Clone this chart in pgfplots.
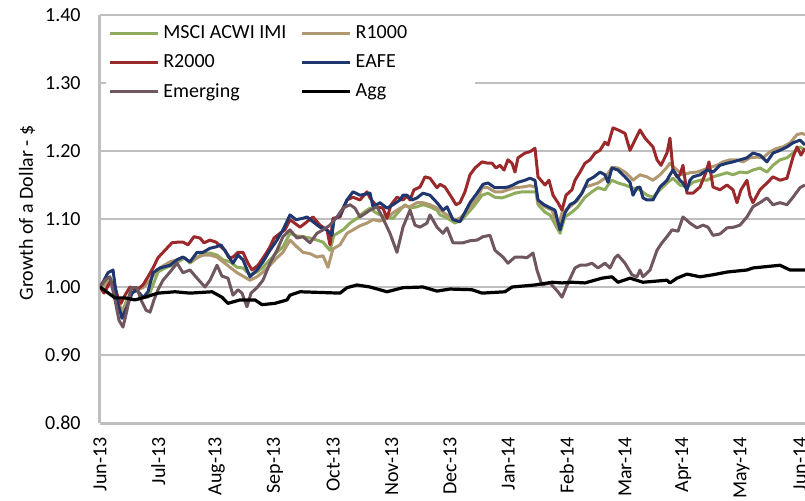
\documentclass[border=0pt]{standalone}
\usepackage{pgfplots}
\pgfplotsset{compat=1.18}
\usepackage{fontspec}
\setmainfont{Carlito}
\definecolor{cMSCI}{RGB}{143,172,92}
\definecolor{cRthou}{RGB}{176,152,112}
\definecolor{cRtwo}{RGB}{155,40,42}
\definecolor{cEAFE}{RGB}{31,54,110}
\definecolor{cEM}{RGB}{112,86,94}
\definecolor{gridgray}{RGB}{191,191,191}
\begin{document}
\begin{tikzpicture}[font=\fontsize{10pt}{12pt}\selectfont]
\begin{axis}[
  scale only axis, width=352.5pt, height=204pt,
  xmin=0, xmax=12.086, ymin=0.8, ymax=1.4,
  axis x line*=bottom, axis y line*=left,
  axis line style={draw=gridgray, line width=1.5pt, -},
  xtick={0,1,2,3,4,5,6,7,8,9,10,11,12},
  xticklabels={Jun-13,Jul-13,Aug-13,Sep-13,Oct-13,Nov-13,Dec-13,Jan-14,Feb-14,Mar-14,Apr-14,May-14,Jun-14},
  ytick={0.8,0.9,1.0,1.1,1.2,1.3,1.4},
  /pgf/number format/assume math mode=true,
  yticklabel style={/pgf/number format/fixed, /pgf/number format/fixed zerofill, /pgf/number format/precision=2, anchor=east, inner sep=0pt, xshift=-9.5pt},
  xticklabel style={yshift=-7pt, rotate=90, anchor=east, inner sep=0pt},
  major tick length=0pt,
  ymajorgrids, grid style={draw=gridgray, line width=1pt},
  ylabel={Growth of a Dollar - \$},
  ylabel style={at={(axis description cs:-0.1035,0.515)}, anchor=center},
  legend style={at={(axis description cs:0.0085,0.988)}, anchor=north west, draw=none, fill=white, inner xsep=1pt, inner ysep=0.5pt, row sep=2.5pt, /tikz/every even column/.append style={column sep=5pt}},
  legend columns=2, legend cell align=left,
  legend image code/.code={\draw[#1] (0pt,0pt) -- (24pt,0pt);},
  every axis plot/.append style={line width=1.5pt, line join=round},
]
\addplot[cMSCI] coordinates {(0,1.000)(0.086,1.006)(0.206,1.010)(0.291,0.985)(0.377,0.963)(0.463,0.981)(0.549,0.996)(0.651,0.993)(0.737,0.985)(0.823,0.985)(0.909,1.003)(0.994,1.022)(1.114,1.028)(1.234,1.032)(1.337,1.037)(1.457,1.043)(1.543,1.035)(1.663,1.043)(1.766,1.050)(1.886,1.050)(2.006,1.047)(2.109,1.040)(2.229,1.037)(2.349,1.029)(2.451,1.028)(2.571,1.018)(2.691,1.022)(2.794,1.029)(2.914,1.040)(3.034,1.051)(3.137,1.059)(3.257,1.079)(3.377,1.075)(3.480,1.074)(3.600,1.072)(3.720,1.069)(3.823,1.066)(3.891,1.059)(3.943,1.054)(4.011,1.076)(4.166,1.084)(4.286,1.094)(4.406,1.101)(4.509,1.109)(4.629,1.116)(4.714,1.110)(4.800,1.106)(4.920,1.103)(5.023,1.101)(5.143,1.113)(5.229,1.121)(5.314,1.116)(5.434,1.118)(5.537,1.121)(5.657,1.118)(5.777,1.113)(5.829,1.106)(5.914,1.103)(6.000,1.099)(6.086,1.094)(6.206,1.099)(6.309,1.109)(6.429,1.121)(6.549,1.135)(6.651,1.138)(6.771,1.132)(6.891,1.131)(6.994,1.134)(7.114,1.138)(7.234,1.140)(7.406,1.140)(7.474,1.140)(7.509,1.121)(7.629,1.110)(7.714,1.106)(7.834,1.087)(7.886,1.079)(7.971,1.103)(8.091,1.110)(8.194,1.118)(8.314,1.132)(8.434,1.140)(8.537,1.146)(8.657,1.143)(8.709,1.150)(8.777,1.157)(8.880,1.153)(9.000,1.150)(9.120,1.146)(9.257,1.143)(9.377,1.135)(9.480,1.132)(9.600,1.143)(9.720,1.153)(9.823,1.160)(9.943,1.150)(10.063,1.147)(10.166,1.154)(10.286,1.157)(10.406,1.157)(10.509,1.162)(10.629,1.165)(10.749,1.168)(10.851,1.165)(10.971,1.169)(11.091,1.168)(11.194,1.172)(11.314,1.175)(11.434,1.169)(11.537,1.179)(11.657,1.187)(11.777,1.190)(11.880,1.197)(12.000,1.206)(12.086,1.201)};
\addlegendentry{MSCI ACWI IMI}
\addplot[cRthou] coordinates {(0,1.000)(0.086,1.003)(0.206,1.007)(0.291,0.984)(0.377,0.962)(0.463,0.976)(0.549,0.993)(0.634,0.996)(0.737,0.999)(0.857,1.010)(0.977,1.025)(1.080,1.031)(1.200,1.037)(1.320,1.040)(1.423,1.044)(1.543,1.037)(1.663,1.043)(1.766,1.047)(1.886,1.047)(2.006,1.044)(2.109,1.037)(2.229,1.029)(2.349,1.021)(2.451,1.016)(2.571,1.010)(2.691,1.015)(2.794,1.022)(2.914,1.032)(3.034,1.043)(3.137,1.051)(3.257,1.069)(3.377,1.059)(3.480,1.051)(3.600,1.049)(3.720,1.044)(3.823,1.046)(3.909,1.029)(3.994,1.056)(4.114,1.062)(4.234,1.079)(4.337,1.084)(4.457,1.090)(4.577,1.094)(4.680,1.099)(4.800,1.097)(4.920,1.101)(5.023,1.109)(5.143,1.116)(5.229,1.119)(5.314,1.118)(5.434,1.124)(5.537,1.124)(5.657,1.121)(5.777,1.116)(5.880,1.110)(6.000,1.103)(6.086,1.099)(6.171,1.101)(6.274,1.110)(6.377,1.121)(6.480,1.132)(6.549,1.146)(6.651,1.146)(6.771,1.140)(6.891,1.140)(6.994,1.143)(7.114,1.146)(7.234,1.147)(7.371,1.149)(7.474,1.147)(7.509,1.124)(7.629,1.118)(7.749,1.113)(7.851,1.088)(7.920,1.109)(8.057,1.118)(8.194,1.128)(8.314,1.147)(8.434,1.150)(8.537,1.153)(8.657,1.160)(8.777,1.176)(8.880,1.175)(9.000,1.169)(9.086,1.162)(9.137,1.157)(9.257,1.165)(9.377,1.162)(9.480,1.157)(9.600,1.165)(9.720,1.176)(9.771,1.182)(9.891,1.172)(9.994,1.165)(10.114,1.168)(10.234,1.169)(10.337,1.172)(10.457,1.176)(10.577,1.179)(10.680,1.184)(10.800,1.187)(10.920,1.187)(11.023,1.184)(11.143,1.190)(11.263,1.191)(11.366,1.190)(11.486,1.199)(11.606,1.204)(11.709,1.206)(11.829,1.212)(11.949,1.224)(12.034,1.226)(12.086,1.224)};
\addlegendentry{R1000\rule{31pt}{0pt}}
\addplot[cRtwo] coordinates {(0,1.000)(0.069,0.991)(0.171,1.007)(0.240,1.006)(0.309,0.984)(0.360,0.976)(0.429,0.988)(0.514,1.000)(0.634,0.996)(0.737,1.003)(0.823,1.015)(0.909,1.028)(0.994,1.043)(1.114,1.054)(1.234,1.065)(1.337,1.066)(1.423,1.066)(1.509,1.062)(1.611,1.074)(1.714,1.072)(1.783,1.065)(1.886,1.069)(1.989,1.066)(2.074,1.059)(2.143,1.054)(2.211,1.043)(2.280,1.044)(2.366,1.051)(2.451,1.051)(2.537,1.035)(2.606,1.025)(2.709,1.032)(2.829,1.047)(2.914,1.059)(2.983,1.072)(3.086,1.079)(3.171,1.084)(3.257,1.099)(3.429,1.088)(3.549,1.096)(3.651,1.103)(3.771,1.091)(3.891,1.084)(3.943,1.062)(3.994,1.101)(4.114,1.103)(4.234,1.128)(4.337,1.132)(4.457,1.128)(4.577,1.140)(4.629,1.131)(4.749,1.118)(4.851,1.116)(4.920,1.101)(4.989,1.121)(5.091,1.132)(5.194,1.128)(5.263,1.134)(5.314,1.128)(5.383,1.143)(5.486,1.147)(5.571,1.162)(5.657,1.160)(5.777,1.146)(5.829,1.151)(5.914,1.147)(6.034,1.131)(6.103,1.121)(6.171,1.124)(6.257,1.140)(6.343,1.165)(6.429,1.175)(6.549,1.184)(6.651,1.182)(6.720,1.182)(6.789,1.175)(6.857,1.179)(6.926,1.172)(6.994,1.187)(7.063,1.182)(7.114,1.169)(7.166,1.190)(7.286,1.197)(7.371,1.199)(7.457,1.204)(7.509,1.162)(7.629,1.150)(7.697,1.157)(7.766,1.135)(7.851,1.124)(7.920,1.113)(7.989,1.135)(8.091,1.143)(8.143,1.157)(8.229,1.169)(8.314,1.182)(8.400,1.187)(8.486,1.197)(8.571,1.201)(8.657,1.213)(8.709,1.209)(8.794,1.234)(8.880,1.231)(9.000,1.226)(9.086,1.201)(9.171,1.216)(9.257,1.231)(9.343,1.219)(9.480,1.206)(9.549,1.187)(9.617,1.179)(9.720,1.197)(9.771,1.219)(9.823,1.172)(9.891,1.162)(9.943,1.165)(9.994,1.179)(10.063,1.138)(10.166,1.138)(10.286,1.147)(10.389,1.169)(10.440,1.184)(10.509,1.147)(10.629,1.143)(10.749,1.150)(10.851,1.143)(10.920,1.124)(10.989,1.143)(11.091,1.157)(11.143,1.134)(11.194,1.124)(11.314,1.143)(11.434,1.153)(11.537,1.162)(11.657,1.157)(11.777,1.160)(11.880,1.191)(11.949,1.206)(12.017,1.194)(12.086,1.204)};
\addlegendentry{R2000}
\addplot[cEAFE] coordinates {(0,1.000)(0.069,1.010)(0.137,1.021)(0.223,1.025)(0.291,0.981)(0.377,0.954)(0.463,0.971)(0.549,0.991)(0.634,0.996)(0.737,0.984)(0.823,0.993)(0.909,1.021)(1.029,1.028)(1.200,1.032)(1.320,1.040)(1.423,1.044)(1.543,1.037)(1.663,1.051)(1.766,1.051)(1.886,1.057)(1.989,1.059)(2.074,1.062)(2.160,1.051)(2.280,1.035)(2.366,1.047)(2.451,1.040)(2.571,1.015)(2.691,1.025)(2.794,1.037)(2.914,1.054)(3.034,1.069)(3.137,1.084)(3.257,1.106)(3.360,1.099)(3.480,1.101)(3.549,1.103)(3.651,1.096)(3.771,1.088)(3.891,1.084)(3.977,1.076)(4.011,1.099)(4.114,1.106)(4.234,1.128)(4.337,1.140)(4.457,1.135)(4.577,1.137)(4.629,1.138)(4.680,1.118)(4.800,1.124)(4.920,1.116)(5.023,1.121)(5.143,1.128)(5.194,1.135)(5.263,1.135)(5.349,1.128)(5.434,1.131)(5.537,1.138)(5.657,1.135)(5.777,1.124)(5.880,1.113)(5.949,1.118)(6.051,1.099)(6.171,1.096)(6.257,1.110)(6.343,1.124)(6.463,1.138)(6.566,1.151)(6.651,1.153)(6.771,1.146)(6.891,1.146)(6.994,1.147)(7.080,1.150)(7.166,1.154)(7.286,1.157)(7.371,1.160)(7.457,1.157)(7.509,1.128)(7.611,1.121)(7.680,1.118)(7.800,1.113)(7.886,1.084)(7.971,1.109)(8.057,1.121)(8.143,1.125)(8.263,1.138)(8.366,1.157)(8.469,1.162)(8.571,1.169)(8.657,1.165)(8.709,1.154)(8.777,1.175)(8.880,1.172)(9.000,1.162)(9.086,1.154)(9.137,1.135)(9.206,1.146)(9.257,1.147)(9.309,1.131)(9.377,1.128)(9.480,1.128)(9.600,1.147)(9.720,1.157)(9.771,1.165)(9.823,1.172)(9.943,1.157)(9.994,1.153)(10.063,1.143)(10.114,1.157)(10.166,1.162)(10.286,1.165)(10.406,1.172)(10.509,1.169)(10.629,1.179)(10.749,1.182)(10.851,1.184)(10.971,1.187)(11.091,1.190)(11.194,1.197)(11.314,1.194)(11.434,1.184)(11.537,1.197)(11.657,1.201)(11.777,1.206)(11.880,1.212)(12.000,1.216)(12.086,1.209)};
\addlegendentry{EAFE}
\addplot[cEM] coordinates {(0,1.000)(0.086,1.010)(0.171,1.015)(0.257,0.981)(0.326,0.951)(0.394,0.941)(0.463,0.966)(0.531,0.999)(0.634,0.999)(0.703,0.981)(0.789,0.966)(0.857,0.963)(0.926,0.981)(0.994,0.996)(1.080,1.010)(1.200,1.022)(1.320,1.035)(1.423,1.021)(1.543,1.025)(1.663,1.013)(1.800,1.000)(1.886,1.010)(2.006,1.032)(2.091,1.016)(2.194,1.013)(2.280,0.988)(2.366,0.996)(2.434,0.991)(2.520,0.971)(2.589,0.991)(2.691,0.999)(2.794,1.010)(2.914,1.035)(3.034,1.054)(3.137,1.074)(3.257,1.084)(3.377,1.072)(3.480,1.074)(3.600,1.065)(3.720,1.079)(3.823,1.084)(3.943,1.091)(4.063,1.103)(4.166,1.116)(4.286,1.121)(4.371,1.116)(4.457,1.103)(4.629,1.113)(4.749,1.118)(4.851,1.101)(4.971,1.079)(5.091,1.051)(5.194,1.088)(5.314,1.113)(5.400,1.091)(5.486,1.088)(5.606,1.094)(5.657,1.106)(5.777,1.088)(5.880,1.079)(5.949,1.087)(6.051,1.065)(6.223,1.065)(6.343,1.068)(6.463,1.069)(6.566,1.074)(6.686,1.076)(6.771,1.054)(6.909,1.044)(6.994,1.035)(7.114,1.044)(7.234,1.044)(7.320,1.043)(7.423,1.050)(7.491,1.025)(7.577,1.003)(7.714,1.006)(7.851,0.993)(7.920,0.985)(8.023,1.006)(8.143,1.028)(8.229,1.032)(8.331,1.032)(8.434,1.035)(8.537,1.028)(8.657,1.035)(8.743,1.028)(8.829,1.043)(8.880,1.047)(9.000,1.035)(9.120,1.018)(9.206,1.015)(9.257,1.025)(9.309,1.015)(9.429,1.025)(9.549,1.054)(9.634,1.065)(9.720,1.074)(9.806,1.084)(9.909,1.082)(9.994,1.103)(10.114,1.094)(10.234,1.087)(10.337,1.091)(10.423,1.088)(10.509,1.076)(10.629,1.078)(10.749,1.087)(10.869,1.088)(10.971,1.091)(11.091,1.103)(11.194,1.118)(11.314,1.124)(11.434,1.131)(11.537,1.121)(11.657,1.124)(11.777,1.121)(11.880,1.132)(12.000,1.146)(12.086,1.150)};
\addlegendentry{Emerging}
\addplot[black, line width=1.6pt] coordinates {(0,1.000)(0.257,0.984)(0.429,0.984)(0.600,0.981)(0.771,0.985)(0.994,0.991)(1.286,0.993)(1.543,0.991)(1.920,0.993)(2.091,0.985)(2.194,0.976)(2.400,0.981)(2.657,0.981)(2.777,0.974)(3.000,0.976)(3.206,0.981)(3.257,0.988)(3.429,0.993)(4.114,0.991)(4.234,0.999)(4.406,1.003)(4.629,1.000)(4.920,0.993)(5.194,0.999)(5.537,1.000)(5.777,0.994)(6.000,0.997)(6.377,0.996)(6.549,0.991)(6.943,0.993)(7.063,1.000)(7.457,1.003)(7.749,1.007)(7.920,1.006)(8.091,1.007)(8.314,1.006)(8.606,1.013)(8.777,1.015)(8.880,1.007)(9.086,1.013)(9.309,1.007)(9.720,1.010)(9.771,1.006)(9.891,1.013)(10.063,1.019)(10.286,1.015)(10.509,1.018)(10.749,1.022)(11.091,1.025)(11.194,1.028)(11.657,1.032)(11.829,1.025)(12.086,1.025)};
\addlegendentry{Agg}
\end{axis}
\pgfresetboundingbox
\useasboundingbox (-50pt,-38.5pt) rectangle (352.5pt,211.5pt);
\end{tikzpicture}
\end{document}
